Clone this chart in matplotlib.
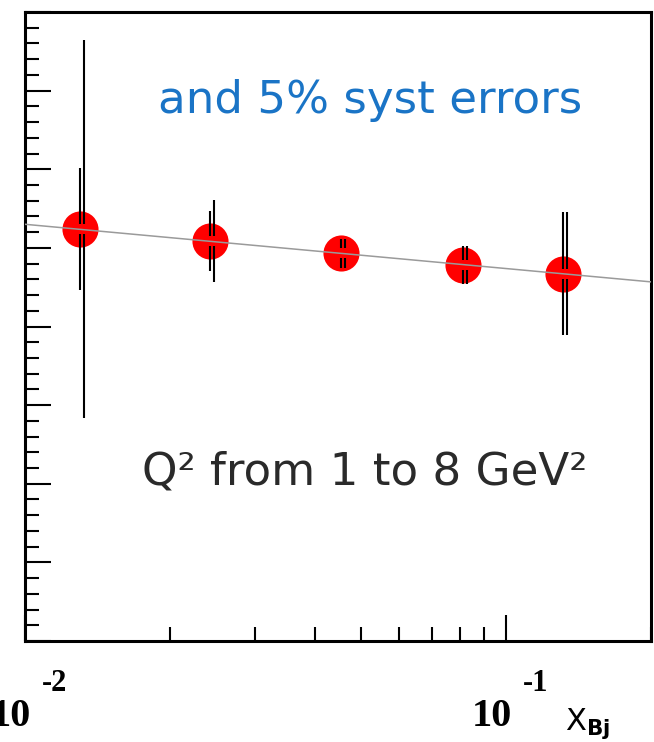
import numpy as np
import matplotlib
matplotlib.use('Agg')
import matplotlib.pyplot as plt
import matplotlib.transforms as mtransforms
from matplotlib.ticker import MultipleLocator, LogLocator, NullFormatter

# measured points vs x_Bj
xbj = [0.0130, 0.0242, 0.0453, 0.0813, 0.1314]
val = [5.24, 5.09, 4.93, 4.78, 4.67]
err_stat = [0.78, 0.38, 0.18, 0.24, 0.78]
err_tot = [2.40, 0.52, 0.18, 0.24, 0.78]

# straight-line fit in log(x): val = fit_a + fit_b*log10(x)
fit_a = 4.174
fit_b = -0.563

decades = [0.01, 0.1]
dec_exp = ['-2', '-1']

fig = plt.figure(figsize=(6.54, 7.42), dpi=100)
ax = fig.add_axes([25/654, 101/742, 626/654, 629/742])
ax.set_xscale('log')
ax.set_xlim(0.01, 0.2)
ax.set_ylim(0, 8)

xf = np.array(ax.get_xlim())
ax.plot(xf, fit_a + fit_b*np.log10(xf), color='#9a9a9a', lw=1.1, zorder=3)
ax.plot(xbj, val, 'o', ms=26, color='red', mec='none', zorder=2)

gap = 0.065
def bars(err, trans):
    for xi, yi, e in zip(xbj, val, err):
        ax.vlines([xi, xi], [yi + gap, yi - e], [yi + e, yi - gap],
                  colors='k', lw=1.5, transform=trans, zorder=4)

shift = mtransforms.offset_copy(ax.transData, fig=fig, x=4, y=0, units='dots')
bars(err_stat, ax.transData)
bars(err_tot, shift)

ax.yaxis.set_major_locator(MultipleLocator(1))
ax.yaxis.set_minor_locator(MultipleLocator(0.2))
ax.xaxis.set_major_locator(LogLocator(base=10, numticks=10))
ax.xaxis.set_minor_locator(LogLocator(base=10, subs=np.arange(2, 10), numticks=20))
ax.xaxis.set_minor_formatter(NullFormatter())
ax.tick_params(which='both', direction='in', top=False, right=False,
               labelleft=False, labelbottom=False, width=1.5, color='k')
ax.tick_params(which='major', length=19)
ax.tick_params(which='minor', length=10)
for s in ax.spines.values():
    s.set_linewidth(2.2)

# decade labels, drawn root-style with a detached exponent
for d, e in zip(decades, dec_exp):
    ax.annotate('10', xy=(d, 0), xycoords=('data', 'axes fraction'),
                xytext=(6, -85), textcoords='offset pixels', ha='right', va='baseline',
                fontsize=29, fontweight='bold', family='Liberation Serif',
                annotation_clip=False)
    ax.annotate(e, xy=(d, 0), xycoords=('data', 'axes fraction'),
                xytext=(17, -50), textcoords='offset pixels', ha='left', va='baseline',
                fontsize=22, fontweight='bold', family='Liberation Serif',
                annotation_clip=False)

fig.text(565/654, 1 - 730/742, r'X$_{\mathbf{Bj}}$', fontsize=22, va='baseline', ha='left')

ax.text(0.552, 1 - 101/629, 'and 5% syst errors', transform=ax.transAxes,
        fontsize=32.5, color='#1a74c6', ha='center', va='baseline', family='DejaVu Sans')
ax.text(0.543, 1 - 473/629, 'Q² from 1 to 8 GeV²', transform=ax.transAxes,
        fontsize=32.5, color='#2a2a2a', ha='center', va='baseline', family='DejaVu Sans')

fig.savefig('out.png', dpi=100)
